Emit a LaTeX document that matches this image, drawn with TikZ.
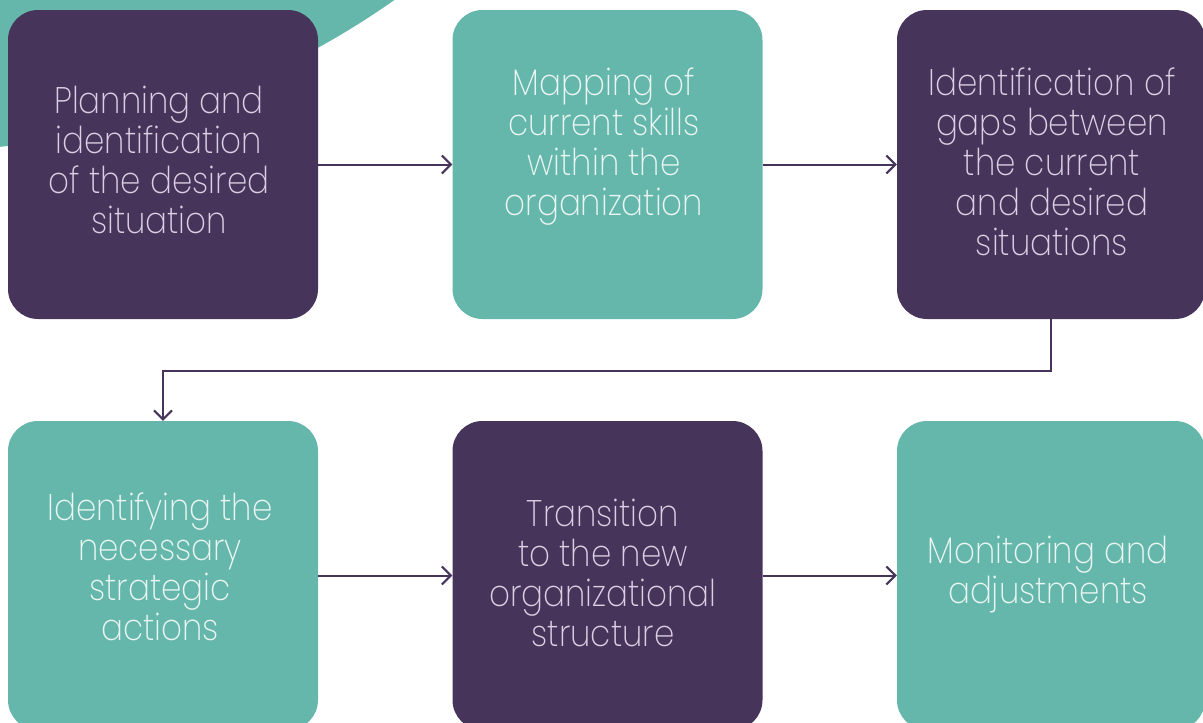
\documentclass[tikz,border=0pt]{standalone}
\usepackage{fontspec}
\setmainfont{Poppins ExtraLight}[FakeStretch=0.88]
\usetikzlibrary{arrows.meta}
\definecolor{plum}{HTML}{46345B}
\definecolor{tealc}{HTML}{66B7AB}
\definecolor{plumtext}{HTML}{DCCFE4}
\definecolor{tealtext}{HTML}{EAF6F3}
\begin{document}
\begin{tikzpicture}[x=1pt,y=-1pt,
  card/.style={rectangle, rounded corners=30pt, minimum width=310pt, minimum height=309pt, inner sep=0pt},
  pcard/.style={card, fill=plum},
  tcard/.style={card, fill=tealc},
  lbl/.style={align=center, font=\fontsize{37}{40}\selectfont, anchor=base, inner sep=0pt},
  plbl/.style={lbl, text=plumtext},
  tlbl/.style={lbl, text=tealtext},
  flow/.style={draw=plum, line width=2pt, -{Straight Barb[length=9pt,width=18pt]}}]
\useasboundingbox (0,0) rectangle (1203,723);
\clip (0,0) rectangle (1203,723);
\fill[tealc] (-84,-682) circle[radius=833];
\node[pcard] (b1) at (163,164.5) {};
\node[tcard] (b2) at (607.5,164.5) {};
\node[pcard, minimum width=308pt] (b3) at (1051,164.5) {};
\node[tcard] (b4) at (163,575.5) {};
\node[pcard] (b5) at (607.5,575.5) {};
\node[tcard, minimum width=308pt] (b6) at (1051,575.5) {};
\node[plbl] (t1) at (159,233) {Planning and\\identification\\of the desired\\situation};
\node[tlbl] (t2) at (604,215) {Mapping of\\current skills\\within the\\organization};
\node[plbl] (t3) at (1052,255) {Identification of\\gaps between\\the current\\and desired\\situations};
\node[tlbl] (t4) at (160,640) {Identifying the\\necessary\\strategic\\actions};
\node[plbl] (t5) at (603,646) {Transition\\to the new\\organizational\\structure};
\node[tlbl] (t6) at (1048,603) {Monitoring and\\adjustments};
\draw[flow] (b1.east) -- (b2.west);
\draw[flow] (b2.east) -- (b3.west);
\draw[flow] (b3.south) -- ++(0,52) -| (b4.north);
\draw[flow] (b4.east) -- (b5.west);
\draw[flow] (b5.east) -- (b6.west);
\end{tikzpicture}
\end{document}
